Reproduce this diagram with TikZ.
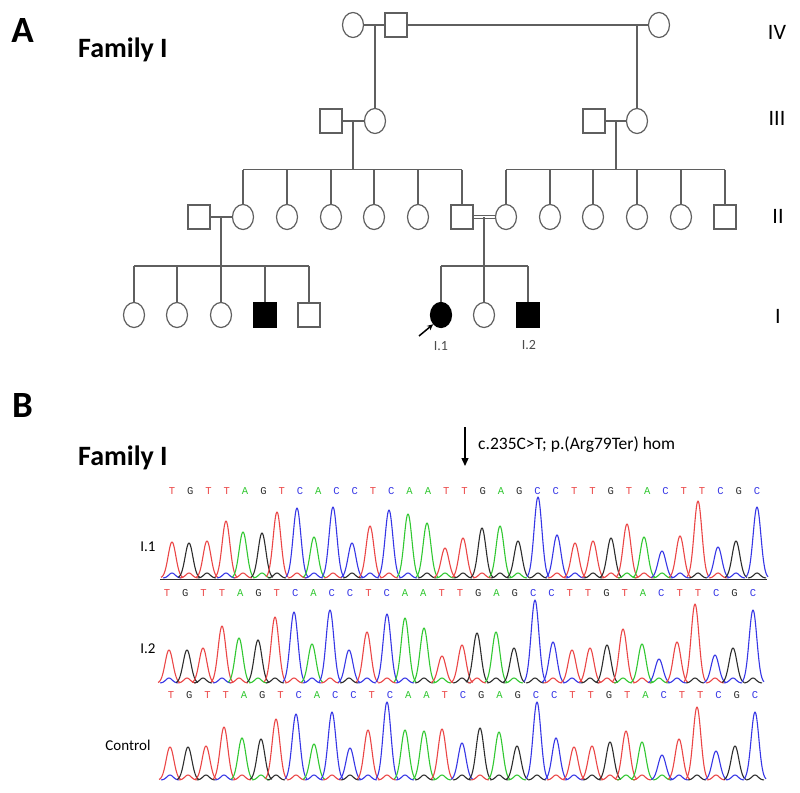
\documentclass[tikz,border=0pt]{standalone}
\usepackage{fontspec}
\setmainfont{Carlito}
\newfontfamily\seqfont{Liberation Mono}
\usetikzlibrary{arrows.meta,shapes.geometric,calc}
\definecolor{pedgray}{RGB}{95,95,95}
\definecolor{cT}{RGB}{235,70,70}
\definecolor{cG}{RGB}{45,45,45}
\definecolor{cA}{RGB}{50,200,50}
\definecolor{cC}{RGB}{55,55,230}
\newcommand\fsz[1]{\fontsize{#1}{#1}\selectfont}
\begin{document}
\begin{tikzpicture}[x=1pt,y=-1pt,
  pline/.style={draw=pedgray, line width=1.2pt},
  male/.style={draw=pedgray, line width=1.2pt, rectangle, minimum width=22pt, minimum height=24pt, inner sep=0pt, fill=white},
  female/.style={draw=pedgray, line width=1.2pt, ellipse, minimum width=21pt, minimum height=25pt, inner sep=0pt, fill=white},
  affected/.style={fill=black, draw=black},
  panellbl/.style={font=\bfseries\fsz{37}, inner sep=0pt, anchor=base},
  famlbl/.style={font=\bfseries\fsz{28}, inner sep=0pt, anchor=base west},
  genlbl/.style={font=\fsz{22}, inner sep=0pt, anchor=base},
  idlbl/.style={font=\fsz{14}, text=pedgray!80!black, inner sep=0pt, anchor=base},
  seqlbl/.style={font=\fsz{15}, inner sep=0pt, anchor=base},
  base/.style={font=\seqfont\fsz{10.5}, inner sep=0pt},
  peak/.style={line width=1.1pt, line join=round}
]
\useasboundingbox (0,0) rectangle (800,792);
\fill[white] (0,0) rectangle (800,792);

% ---------------- Panel A ----------------
\node[panellbl] (A) at (22.5,43) {A};
\node[famlbl] (famA) at (78,57) {Family I};

% generation IV
\node[female] (f4a) at (353,25) {};
\node[male]   (m4a) at (396,25) {};
\node[female] (f4b) at (659,25) {};
% generation III
\node[male]   (m3a) at (331,121) {};
\node[female] (f3a) at (375,121) {};
\node[male]   (m3b) at (594,121) {};
\node[female] (f3b) at (637,121) {};
% generation II
\node[male]   (m2a) at (199,217) {};
\node[female] (f2a) at (243,217) {};
\node[female] (f2b) at (287,217) {};
\node[female] (f2c) at (331,217) {};
\node[female] (f2d) at (374,217) {};
\node[female] (f2e) at (418,217) {};
\node[male]   (m2b) at (462,217) {};
\node[female] (f2f) at (506,217) {};
\node[female] (f2g) at (550,217) {};
\node[female] (f2h) at (593,217) {};
\node[female] (f2i) at (637,217) {};
\node[female] (f2j) at (681,217) {};
\node[male]   (m2c) at (725,217) {};
% generation I
\node[female] (c1) at (134,315) {};
\node[female] (c2) at (177,315) {};
\node[female] (c3) at (221,315) {};
\node[male,affected] (c4) at (265,315) {};
\node[male]   (c5) at (309,315) {};
\node[female,affected] (p1) at (441,315) {};
\node[female] (c6) at (484,315) {};
\node[male,affected] (p2) at (528,315) {};

% sibship coordinates
\coordinate (s2L) at (353,169.5);
\coordinate (s2R) at (616,169.5);
\coordinate (s1L) at (221,266);
\coordinate (s1R) at (484,266);

% marriages IV
\draw[pline] (f4a) -- (m4a);
\draw[pline] (m4a) -- (f4b);
\draw[pline] (f3a.north |- f4a) -- (f3a.north);
\draw[pline] (f3b.north |- f4b) -- (f3b.north);
% marriages III
\draw[pline] (m3a) -- (f3a);
\draw[pline] (s2L |- m3a) -- (s2L);
\draw[pline] (m3b) -- (f3b);
\draw[pline] (s2R |- m3b) -- (s2R);
% sibships II
\draw[pline] (f2a.north |- s2L) -- (m2b.north |- s2L);
\foreach \n in {f2a,f2b,f2c,f2d,f2e,m2b}
  \draw[pline] (\n.north |- s2L) -- (\n.north);
\draw[pline] (f2f.north |- s2R) -- (m2c.north |- s2R);
\foreach \n in {f2f,f2g,f2h,f2i,f2j,m2c}
  \draw[pline] (\n.north |- s2R) -- (\n.north);
% marriages II
\draw[pline] (m2a) -- (f2a);
\draw[pline] (s1L |- m2a) -- (s1L);
\draw[pline] ([yshift=1.6pt]m2b.east) -- ([yshift=1.6pt]m2b.east -| f2f.west);
\draw[pline] ([yshift=-1.6pt]m2b.east) -- ([yshift=-1.6pt]m2b.east -| f2f.west);
\draw[pline] (s1R |- m2b) -- (s1R);
% sibships I
\draw[pline] (c1.north |- s1L) -- (c5.north |- s1L);
\foreach \n in {c1,c2,c3,c4,c5}
  \draw[pline] (\n.north |- s1L) -- (\n.north);
\draw[pline] (p1.north |- s1R) -- (p2.north |- s1R);
\foreach \n in {p1,c6,p2}
  \draw[pline] (\n.north |- s1R) -- (\n.north);

% proband arrow
\coordinate (arrtail) at (419,336);
\draw[line width=1.5pt, -{Stealth[length=6pt,width=5.5pt]}] (arrtail) -- (p1.south west);

% labels
\node[idlbl] (l11) at (441,350) {I.1};
\node[idlbl] (l12) at (529,349) {I.2};
\node[genlbl] (gIV) at (777,40) {IV};
\node[genlbl] (gIII) at (777,125) {III};
\node[genlbl] (gII) at (778,223) {II};
\node[genlbl] (gI) at (778,323) {I};

% ---------------- Panel B ----------------
\node[panellbl] (B) at (22.5,417) {B};
\node[famlbl] (famB) at (78,465) {Family I};
\node[font=\fsz{17.5}, inner sep=0pt, anchor=base west] (mut) at (478,449) {c.235C>T; p.(Arg79Ter) hom};
\coordinate (mtop) at (465,427);
\coordinate (mbot) at (465,466);
\draw[line width=1.3pt, -{Triangle[length=8pt,width=7pt]}] (mtop) -- (mbot);

\node[seqlbl] (sI1) at (148,551) {I.1};
\node[seqlbl] (sI2) at (148,653) {I.2};
\node[seqlbl] (sC) at (128,750) {Control};

% base call letters
\foreach \b [count=\i from 0] in {T,G,T,T,A,G,T,C,A,C,C,T,C,A,A,T,T,G,A,G,C,C,T,T,G,T,A,C,T,T,C,G,C} {
  \node[base, text=c\b] at ({172+18.28*\i},491) {\b};
  \node[base, text=c\b] at ({167+18.31*\i},593) {\b};
}
\foreach \b [count=\i from 0] in {T,G,T,T,A,G,T,C,A,C,C,T,C,A,A,T,C,G,A,G,C,C,T,T,G,T,A,C,T,T,C,G,C} {
  \node[base, text=c\b] at ({171+18.25*\i},695) {\b};
}

% baseline panel 1
\draw[line width=1.6pt, draw=cG] (160,579.5) -- (767,579.5);

% peaks: x/h/color ; panel 1
\foreach \px/\ph/\pc/\sc in {172/36/cT/cC,189/35/cG/cT,207/37/cT/cG,226/57/cT/cC,243/46/cA/cT,262/45/cG/cA,277/66/cT/cG,297/70/cC/cT,314/41/cA/cC,333/71/cC/cT,352/35/cC/cG,370/52/cT/cC,389/68/cC/cT,408/64/cA/cC,427/55/cA/cG,445/30/cT/cA,463/40/cT/cG,482/50/cG/cT,500/52/cA/cG,518/37/cG/cA,538/81/cC/cG,557/43/cC/cT,575/35/cT/cC,593/37/cT/cG,611/40/cG/cT,627/54/cT/cA,644/41/cA/cT,662/27/cC/cA,680/42/cT/cC,698/77/cT/cG,718/31/cC/cT,736/37/cG/cC,757/71/cC/cG} {
  \draw[peak, draw=\sc] plot[domain=-9:9, samples=19, smooth] ({\px+\x},{578-5*exp(-((\x)*(\x))/20)});
  \draw[peak, draw=\pc] plot[domain=-11:11, samples=31, smooth] ({\px+\x},{578-\ph*exp(-((\x)*(\x))/30)});
}
% panel 2
\foreach \px/\ph/\pc/\sc in {169/33/cT/cC,187/33/cG/cT,203/35/cT/cG,222/57/cT/cC,239/45/cA/cT,258/43/cG/cA,275/66/cT/cG,294/71/cC/cT,312/39/cA/cC,330/73/cC/cT,349/33/cC/cG,367/51/cT/cC,387/69/cC/cT,405/65/cA/cC,424/55/cA/cG,442/27/cT/cA,462/38/cT/cG,477/50/cG/cT,496/51/cA/cG,514/35/cG/cA,535/83/cC/cG,553/41/cC/cT,572/33/cT/cC,590/35/cT/cG,607/38/cG/cT,623/54/cT/cA,642/39/cA/cT,659/24/cC/cA,677/41/cT/cC,695/79/cT/cG,715/28/cC/cT,733/35/cG/cC,753/73/cC/cG} {
  \draw[peak, draw=\sc] plot[domain=-9:9, samples=19, smooth] ({\px+\x},{683-5*exp(-((\x)*(\x))/20)});
  \draw[peak, draw=\pc] plot[domain=-11:11, samples=31, smooth] ({\px+\x},{683-\ph*exp(-((\x)*(\x))/30)});
}
% panel 3
\foreach \px/\ph/\pc/\sc in {170/33/cT/cC,188/33/cG/cT,206/34/cT/cG,224/53/cT/cC,242/42/cA/cT,261/41/cG/cA,276/61/cT/cG,296/66/cC/cT,314/36/cA/cC,332/68/cC/cT,350/32/cC/cG,368/50/cT/cC,387/78/cC/cT,405/50/cA/cC,424/49/cA/cG,442/51/cT/cA,462/37/cC/cG,480/52/cG/cT,499/48/cA/cG,517/34/cG/cA,537/78/cC/cG,556/42/cC/cT,574/33/cT/cC,592/34/cT/cG,610/38/cG/cT,626/49/cT/cA,642/38/cA/cT,662/25/cC/cA,679/41/cT/cC,697/73/cT/cG,716/29/cC/cT,735/34/cG/cC,755/68/cC/cG} {
  \draw[peak, draw=\sc] plot[domain=-9:9, samples=19, smooth] ({\px+\x},{780-5*exp(-((\x)*(\x))/20)});
  \draw[peak, draw=\pc] plot[domain=-11:11, samples=31, smooth] ({\px+\x},{780-\ph*exp(-((\x)*(\x))/30)});
}
\end{tikzpicture}
\end{document}
